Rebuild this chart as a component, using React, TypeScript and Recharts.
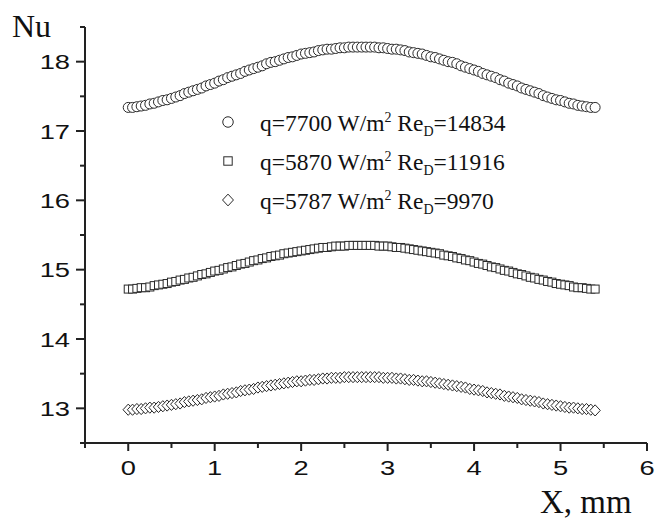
import { ScatterChart, Scatter, XAxis, YAxis, Legend, Label } from 'recharts';

// x position along the sample, mm
const X_MM = [
  0, 0.05, 0.1, 0.15, 0.2, 0.25, 0.3, 0.35, 0.4, 0.45,
  0.5, 0.55, 0.6, 0.65, 0.7, 0.75, 0.8, 0.85, 0.9, 0.95,
  1, 1.05, 1.1, 1.15, 1.2, 1.25, 1.3, 1.35, 1.4, 1.45,
  1.5, 1.55, 1.6, 1.65, 1.7, 1.75, 1.8, 1.85, 1.9, 1.95,
  2, 2.05, 2.1, 2.15, 2.2, 2.25, 2.3, 2.35, 2.4, 2.45,
  2.5, 2.55, 2.6, 2.65, 2.7, 2.75, 2.8, 2.85, 2.9, 2.95,
  3, 3.05, 3.1, 3.15, 3.2, 3.25, 3.3, 3.35, 3.4, 3.45,
  3.5, 3.55, 3.6, 3.65, 3.7, 3.75, 3.8, 3.85, 3.9, 3.95,
  4, 4.05, 4.1, 4.15, 4.2, 4.25, 4.3, 4.35, 4.4, 4.45,
  4.5, 4.55, 4.6, 4.65, 4.7, 4.75, 4.8, 4.85, 4.9, 4.95,
  5, 5.05, 5.1, 5.15, 5.2, 5.25, 5.3, 5.35, 5.4,
];

// q=7700 W/m2, ReD=14834
const NU_Q7700 = [
  17.34, 17.34, 17.35, 17.36, 17.37, 17.39, 17.40, 17.42, 17.44, 17.45,
  17.47, 17.49, 17.51, 17.54, 17.56, 17.58, 17.60, 17.62, 17.65, 17.67,
  17.69, 17.72, 17.74, 17.77, 17.79, 17.81, 17.83, 17.86, 17.88, 17.90,
  17.92, 17.94, 17.97, 17.99, 18.00, 18.02, 18.04, 18.06, 18.07, 18.09,
  18.11, 18.12, 18.13, 18.14, 18.16, 18.17, 18.18, 18.18, 18.19, 18.20,
  18.20, 18.21, 18.21, 18.21, 18.21,
  18.21, 18.21, 18.21, 18.20, 18.20, 18.19, 18.18, 18.18, 18.17, 18.16,
  18.14, 18.13, 18.12, 18.11, 18.09, 18.07, 18.06, 18.04, 18.02, 18.00,
  17.99, 17.97, 17.94, 17.92, 17.90, 17.88, 17.86, 17.83, 17.81, 17.79,
  17.77, 17.74, 17.72, 17.69, 17.67, 17.65, 17.62, 17.60, 17.58, 17.56,
  17.54, 17.51, 17.49, 17.47, 17.45, 17.44, 17.42, 17.40, 17.39, 17.37,
  17.36, 17.35, 17.34, 17.34,
];

// q=5870 W/m2, ReD=11916
const NU_Q5870 = [
  14.72, 14.72, 14.73, 14.74, 14.74, 14.75, 14.77, 14.78, 14.79, 14.80,
  14.82, 14.83, 14.85, 14.86, 14.88, 14.89, 14.91, 14.93, 14.94, 14.96,
  14.98, 14.99, 15.01, 15.03, 15.04, 15.06, 15.08, 15.09, 15.11, 15.13,
  15.14, 15.16, 15.17, 15.19, 15.20, 15.21, 15.23, 15.24, 15.25, 15.26,
  15.27, 15.28, 15.29, 15.30, 15.31, 15.32, 15.32, 15.33, 15.34, 15.34,
  15.34, 15.35, 15.35, 15.35, 15.35,
  15.35, 15.35, 15.35, 15.34, 15.34, 15.34, 15.33, 15.32, 15.32, 15.31,
  15.30, 15.29, 15.28, 15.27, 15.26, 15.25, 15.24, 15.23, 15.21, 15.20,
  15.19, 15.17, 15.16, 15.14, 15.13, 15.11, 15.09, 15.08, 15.06, 15.04,
  15.03, 15.01, 14.99, 14.98, 14.96, 14.94, 14.93, 14.91, 14.89, 14.88,
  14.86, 14.85, 14.83, 14.82, 14.80, 14.79, 14.78, 14.77, 14.75, 14.74,
  14.74, 14.73, 14.72, 14.72,
];

// q=5787 W/m2, ReD=9970
const NU_Q5787 = [
  12.98, 12.98, 12.99, 12.99, 13.00, 13.01, 13.01, 13.02, 13.03, 13.04,
  13.05, 13.06, 13.07, 13.09, 13.10, 13.11, 13.12, 13.13, 13.15, 13.16,
  13.17, 13.18, 13.20, 13.21, 13.22, 13.23, 13.25, 13.26, 13.27, 13.28,
  13.30, 13.31, 13.32, 13.33, 13.34, 13.35, 13.36, 13.37, 13.38, 13.39,
  13.39, 13.40, 13.41, 13.41, 13.42, 13.43, 13.43, 13.44, 13.44, 13.44,
  13.45, 13.45, 13.45, 13.45, 13.45,
  13.45, 13.45, 13.45, 13.45, 13.44, 13.44, 13.44, 13.43, 13.43, 13.42,
  13.41, 13.41, 13.40, 13.39, 13.39, 13.38, 13.37, 13.36, 13.35, 13.34,
  13.33, 13.32, 13.31, 13.30, 13.28, 13.27, 13.26, 13.25, 13.23, 13.22,
  13.21, 13.20, 13.18, 13.17, 13.16, 13.15, 13.13, 13.12, 13.11, 13.10,
  13.09, 13.07, 13.06, 13.05, 13.04, 13.03, 13.02, 13.01, 13.01, 13.00,
  12.99, 12.99, 12.98, 12.97,
];

const X_TICKS = [-0.5, 0, 0.5, 1, 1.5, 2, 2.5, 3, 3.5, 4, 4.5, 5, 5.5, 6];
const Y_TICKS = [12.5, 13, 13.5, 14, 14.5, 15, 15.5, 16, 16.5, 17, 17.5, 18, 18.5];

const LEGEND_ROWS = [
  { shape: 'circle', q: '7700', re: '14834' },
  { shape: 'square', q: '5870', re: '11916' },
  { shape: 'diamond', q: '5787', re: '9970' },
];

const INK = '#222';
const MARK = '#2a2a2a';
const SANS = '"Liberation Sans", Arial, sans-serif';
const SERIF = '"Liberation Serif", "Times New Roman", serif';

const toPoints = (ys: number[]) => X_MM.map((x, i) => ({ x, y: ys[i] }));

function Marker({ kind, cx, cy, s = 1 }: { kind: string; cx: number; cy: number; s?: number }) {
  if (kind === 'circle') {
    return <circle cx={cx} cy={cy} r={5 * s} fill="#fff" stroke={MARK} strokeWidth={1} />;
  }
  if (kind === 'square') {
    return <rect x={cx - 4 * s} y={cy - 4 * s} width={8 * s} height={8 * s} fill="#fff" stroke={MARK} strokeWidth={1} />;
  }
  const w = 5.2 * s;
  const h = 5.6 * s;
  return (
    <path
      d={`M${cx},${cy - h}L${cx + w},${cy}L${cx},${cy + h}L${cx - w},${cy}Z`}
      fill="#fff"
      stroke={MARK}
      strokeWidth={1}
    />
  );
}

const shapeOf = (kind: string) => (p: any) => <Marker kind={kind} cx={p.cx} cy={p.cy} />;

function BottomTick({ x, y, payload }: any) {
  const v = payload.value;
  const major = Number.isInteger(v);
  return (
    <g>
      <line x1={x} y1={y} x2={x} y2={y + (major ? 8 : 5)} stroke={INK} strokeWidth={2} />
      {major && (
        <text
          transform={`translate(${x},${y + 32}) scale(1.3,1)`}
          textAnchor="middle"
          fontFamily={SANS}
          fontSize={21}
          fill="#111"
        >
          {v}
        </text>
      )}
    </g>
  );
}

function LeftTick({ x, y, payload }: any) {
  const v = payload.value;
  const major = Number.isInteger(v);
  return (
    <g>
      <line x1={x} y1={y} x2={x - (major ? 9 : 5)} y2={y} stroke={INK} strokeWidth={2} />
      {major && (
        <text
          transform={`translate(${x - 15},${y + 7.5}) scale(1.3,1)`}
          textAnchor="end"
          fontFamily={SANS}
          fontSize={21}
          fill="#111"
        >
          {v}
        </text>
      )}
    </g>
  );
}

function TopTick({ x, y, payload }: any) {
  const major = Number.isInteger(payload.value);
  return <line x1={x} y1={y} x2={x} y2={y + (major ? 8 : 5)} stroke={INK} strokeWidth={2} />;
}

function RightTick({ x, y, payload }: any) {
  const major = Number.isInteger(payload.value);
  return <line x1={x} y1={y} x2={x - (major ? 8 : 5)} y2={y} stroke={INK} strokeWidth={2} />;
}

function LegendBox() {
  return (
    <svg width={320} height={120} style={{ display: 'block' }}>
      {LEGEND_ROWS.map((row, i) => {
        const cy = 22 + i * 39;
        return (
          <g key={row.q}>
            <Marker kind={row.shape} cx={13} cy={cy} s={1.05} />
            <text x={45} y={cy + 8.5} fontFamily={SERIF} fontSize={23.5} fill="#111">
              {`q=${row.q} W/m`}
              <tspan fontSize={14} dy={-9}>2</tspan>
              <tspan dy={9}>{' Re'}</tspan>
              <tspan fontSize={14} dy={5}>D</tspan>
              <tspan dy={-5}>{`=${row.re}`}</tspan>
            </text>
          </g>
        );
      })}
    </svg>
  );
}

export default function App() {
  return (
    <div style={{ position: 'absolute', left: 0, top: 0, width: 655, height: 519, background: '#fff' }}>
      <ScatterChart width={655} height={519} margin={{ top: 27, right: 8, bottom: 0, left: 0 }}>
        <XAxis
          xAxisId="bottom"
          type="number"
          dataKey="x"
          domain={[-0.5, 6]}
          allowDataOverflow
          ticks={X_TICKS}
          interval={0}
          height={76}
          tickSize={0}
          tickMargin={0}
          tickLine={false}
          axisLine={{ stroke: INK, strokeWidth: 2 }}
          tick={<BottomTick />}
          label={
            <Label
              content={() => (
                <text x={540} y={513} fontFamily={SERIF} fontSize={33} fill="#111">
                  X, mm
                </text>
              )}
            />
          }
        />
        <XAxis
          xAxisId="top"
          orientation="top"
          type="number"
          dataKey="x"
          domain={[-0.5, 6]}
          allowDataOverflow
          ticks={X_TICKS}
          interval={0}
          height={0}
          tickSize={0}
          tickMargin={0}
          tickLine={false}
          axisLine={{ stroke: INK, strokeWidth: 2 }}
          tick={<TopTick />}
        />
        <YAxis
          yAxisId="left"
          type="number"
          dataKey="y"
          domain={[12.5, 18.5]}
          allowDataOverflow
          ticks={Y_TICKS}
          interval={0}
          width={85}
          tickSize={0}
          tickMargin={0}
          tickLine={false}
          axisLine={{ stroke: INK, strokeWidth: 2 }}
          tick={<LeftTick />}
          label={
            <Label
              content={() => (
                <text x={12} y={37} fontFamily={SERIF} fontSize={32} fill="#111">
                  Nu
                </text>
              )}
            />
          }
        />
        <YAxis
          yAxisId="right"
          orientation="right"
          type="number"
          dataKey="y"
          domain={[12.5, 18.5]}
          allowDataOverflow
          ticks={Y_TICKS}
          interval={0}
          width={0}
          tickSize={0}
          tickMargin={0}
          tickLine={false}
          axisLine={{ stroke: INK, strokeWidth: 2 }}
          tick={<RightTick />}
        />
        <Legend
          layout="vertical"
          align="center"
          verticalAlign="middle"
          content={<LegendBox />}
          wrapperStyle={{ position: 'absolute', left: 215, top: 100, width: 320, height: 120 }}
        />
        <Scatter
          name="q7700"
          xAxisId="bottom"
          yAxisId="left"
          data={toPoints(NU_Q7700)}
          shape={shapeOf('circle')}
          isAnimationActive={false}
        />
        <Scatter
          name="q5870"
          xAxisId="bottom"
          yAxisId="left"
          data={toPoints(NU_Q5870)}
          shape={shapeOf('square')}
          isAnimationActive={false}
        />
        <Scatter
          name="q5787"
          xAxisId="bottom"
          yAxisId="left"
          data={toPoints(NU_Q5787)}
          shape={shapeOf('diamond')}
          isAnimationActive={false}
        />
      </ScatterChart>
    </div>
  );
}
